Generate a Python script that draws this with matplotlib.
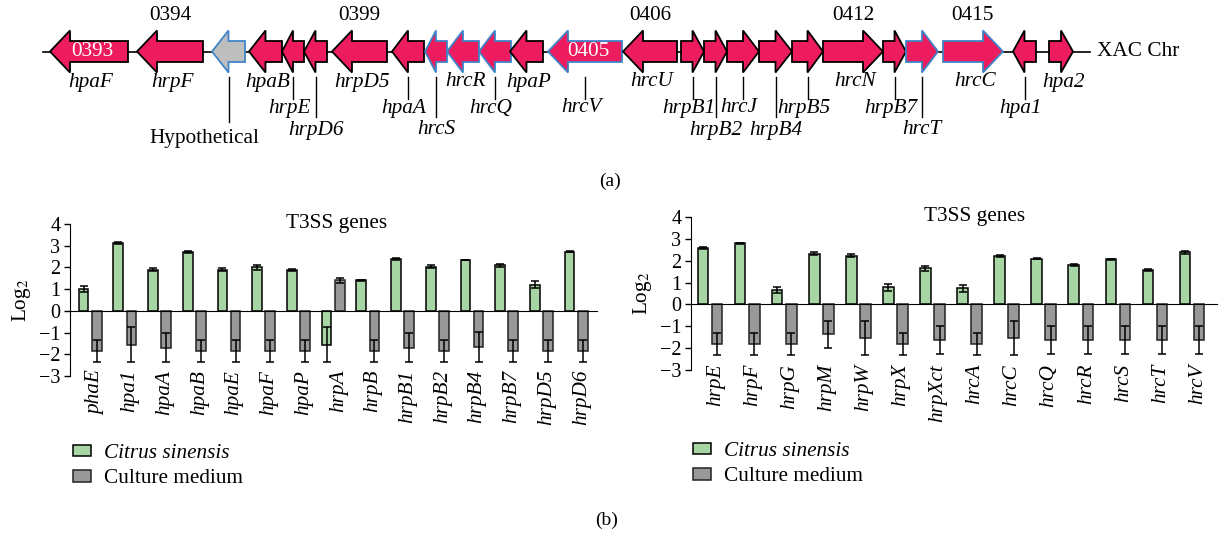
import numpy as np
import matplotlib.pyplot as plt
from matplotlib.patches import FancyArrow

plt.rcParams['font.family'] = ['Liberation Serif', 'DejaVu Serif']
plt.rcParams['mathtext.fontset'] = 'stix'

# ---- gene map (a): positions along the drawn map ----
map_genes = ['hpaF', 'hrpF', 'Hypothetical', 'hpaB', 'hrpE', 'hrpD6', 'hrpD5', 'hpaA',
             'hrcS', 'hrcR', 'hrcQ', 'hpaP', 'hrcV', 'hrcU', 'hrpB1', 'hrpB2', 'hrcJ',
             'hrpB4', 'hrpB5', 'hrcN', 'hrpB7', 'hrcT', 'hrcC', 'hpa1', 'hpa2']
map_start = [50, 137, 212, 249, 282, 304, 332, 392, 425, 447, 479, 510, 548, 623,
             681, 704, 727, 759, 792, 823, 883, 906, 943, 1013, 1049]
map_end = [128, 203, 245, 282, 304, 327, 387, 424, 447, 479, 511, 543, 622, 677,
           704, 727, 759, 792, 823, 883, 906, 938, 1003, 1036, 1073]
map_strand = [-1, -1, -1, -1, -1, -1, -1, -1, -1, -1, -1, -1, -1, -1,
              1, 1, 1, 1, 1, 1, 1, 1, 1, -1, 1]
label_row = [0, 0, 3, 0, 1, 2, 0, 1, 2, 0, 1, 0, 1, 0, 1, 2, 1, 2, 1, 0, 1, 2, 0, 1, 0]
locus_tags = {'hpaF': '0393', 'hrpF': '0394', 'hrpD5': '0399', 'hrcV': '0405',
              'hrcU': '0406', 'hrcN': '0412', 'hrcC': '0415'}
tag_inside = ['hpaF', 'hrcV']
blue_edge = ['Hypothetical', 'hrcS', 'hrcR', 'hrcQ', 'hrcV', 'hrcT', 'hrcC']

# ---- expression (b) ----
left_genes = ['phaE', 'hpa1', 'hpaA', 'hpaB', 'hpaE', 'hpaF', 'hpaP', 'hrpA', 'hrpB',
              'hrpB1', 'hrpB2', 'hrpB4', 'hrpB7', 'hrpD5', 'hrpD6']
left_citrus = [1.0, 3.12, 1.9, 2.7, 1.9, 2.0, 1.9, -1.55, 1.4, 2.38, 2.04, 2.32, 2.09, 1.2, 2.73]
left_citrus_err = [0.15, 0.04, 0.07, 0.04, 0.06, 0.1, 0.05, 0.8, 0.04, 0.06, 0.08, 0.0, 0.08, 0.17, 0.04]
left_medium = [-1.85, -1.55, -1.69, -1.85, -1.85, -1.85, -1.85, 1.4, -1.85, -1.69, -1.85,
               -1.67, -1.85, -1.85, -1.85]
left_medium_err = [0.51, 0.8, 0.68, 0.51, 0.51, 0.51, 0.51, 0.1, 0.51, 0.68, 0.51, 0.68,
                   0.51, 0.51, 0.51]

right_genes = ['hrpE', 'hrpF', 'hrpG', 'hrpM', 'hrpW', 'hrpX', 'hrpXct', 'hrcA', 'hrcC',
               'hrcQ', 'hrcR', 'hrcS', 'hrcT', 'hrcV']
right_citrus = [2.58, 2.8, 0.65, 2.33, 2.23, 0.78, 1.65, 0.73, 2.23, 2.1, 1.8, 2.07, 1.58, 2.39]
right_citrus_err = [0.05, 0.03, 0.14, 0.06, 0.08, 0.17, 0.1, 0.15, 0.04, 0.04, 0.06, 0.02, 0.04, 0.06]
right_medium = [-1.81, -1.81, -1.81, -1.37, -1.53, -1.81, -1.64, -1.81, -1.53, -1.64,
                -1.64, -1.64, -1.64, -1.64]
right_medium_err = [0.49, 0.49, 0.49, 0.62, 0.78, 0.49, 0.645, 0.49, 0.78, 0.645, 0.645,
                    0.645, 0.645, 0.645]

pink = '#EC1C5E'
green = '#A8D5A4'
grey = '#999999'
fs = 15.3

fig = plt.figure(figsize=(12.19, 5.35), dpi=100)

# gene map axis, one unit = one pixel
axm = fig.add_axes([0, 1 - 200 / 535, 1, 200 / 535])
axm.set_xlim(0, 1219)
axm.set_ylim(200, 0)
axm.axis('off')
yc = 51.5
axm.plot([43, 1090], [yc, yc], color='black', lw=1.2, zorder=1)
for i, g in enumerate(map_genes):
    s, e = map_start[i], map_end[i]
    L = e - s
    head = min(20, L / 2)
    if map_strand[i] < 0:
        x0, dx = e, -L
    else:
        x0, dx = s, L
    fc = '#BEBEBE' if g == 'Hypothetical' else pink
    ec = '#3F84C8' if g in blue_edge else 'black'
    axm.add_patch(FancyArrow(x0, yc, dx, 0, width=21, head_width=42, head_length=head,
                             length_includes_head=True, fc=fc, ec=ec, lw=1.3, zorder=2))
    xm = (s + e) / 2
    row = label_row[i]
    if row == 0:
        axm.text(xm + 2, 82, g, style='italic', ha='center', va='center', fontsize=fs)
    elif row == 1:
        axm.plot([xm, xm], [77, 99], color='black', lw=1)
        axm.text(xm - 4, 108, g, style='italic', ha='center', va='center', fontsize=fs)
    elif row == 2:
        axm.plot([xm, xm], [77, 117], color='black', lw=1)
        axm.text(xm, 130, g, style='italic', ha='center', va='center', fontsize=fs)
    else:
        axm.plot([xm, xm], [77, 122], color='black', lw=1)
        axm.text(xm - 24, 138, g, ha='center', va='center', fontsize=fs)
    if g in locus_tags:
        if g in tag_inside:
            axm.text(xm + 3, yc, locus_tags[g], color='white', ha='center', va='center',
                     fontsize=fs, zorder=3)
        else:
            axm.text(xm, 16, locus_tags[g], ha='center', va='center', fontsize=fs)
axm.text(1097, yc, 'XAC Chr', ha='left', va='center', fontsize=fs)
axm.text(610, 181, '(a)', ha='center', va='center', fontsize=14)


def expr_panel(rect, genes, c, ce, m, me, xlim, title_x, leg_xy):
    ax = fig.add_axes(rect)
    x = np.arange(len(genes))
    ekw = dict(ecolor='black', elinewidth=1.1, capsize=3, capthick=1.1)
    b1 = ax.bar(x - 0.19, c, 0.28, yerr=ce, color=green, edgecolor='black', lw=1.1,
                error_kw=ekw, label='Citrus sinensis', zorder=2)
    b2 = ax.bar(x + 0.19, m, 0.28, yerr=me, color=grey, edgecolor='#222222', lw=1.1,
                error_kw=ekw, label='Culture medium', zorder=2)
    ax.set_xlim(*xlim)
    ax.set_ylim(-3, 4)
    ax.set_yticks(range(-3, 5))
    ax.spines['top'].set_visible(False)
    ax.spines['right'].set_visible(False)
    ax.spines['bottom'].set_position(('data', 0))
    ax.spines['bottom'].set_zorder(3)
    ax.tick_params(axis='x', length=0, labelbottom=False)
    ax.tick_params(axis='y', labelsize=14.5, length=4, width=1, pad=3)
    ax.set_ylabel('Log$_2$', fontsize=fs)
    ax.yaxis.set_label_coords(-0.07, 0.5)
    ax.patch.set_visible(False)
    tr = ax.get_xaxis_transform()
    for i, g in enumerate(genes):
        ax.text(i + 0.15, 0.04, g, rotation=90, style='italic', ha='center', va='top',
                fontsize=fs, transform=tr)
    ax.text(title_x, 1.0, 'T3SS genes', ha='center', va='center', fontsize=fs,
            transform=ax.transAxes)
    leg = ax.legend(handles=[b1, b2], loc='upper left',
                    bbox_to_anchor=(leg_xy[0] / 1219, 1 - leg_xy[1] / 535),
                    bbox_transform=fig.transFigure, frameon=False, fontsize=fs,
                    handlelength=0.85, handleheight=0.45, handletextpad=0.6,
                    labelspacing=0.3, borderpad=0, borderaxespad=0)
    leg.get_texts()[0].set_style('italic')
    return ax


expr_panel([70 / 1219, 1 - 376 / 535, 527 / 1219, 152 / 535], left_genes,
           left_citrus, left_citrus_err, left_medium, left_medium_err,
           (-0.58, 14.6), 0.505, (73, 444))
expr_panel([691 / 1219, 1 - 370 / 535, 526 / 1219, 153 / 535], right_genes,
           right_citrus, right_citrus_err, right_medium, right_medium_err,
           (-0.52, 13.68), 0.54, (693, 442))

fig.text(607 / 1219, 1 - 520 / 535, '(b)', ha='center', va='center', fontsize=14)

fig.savefig('out.png', dpi=100)
